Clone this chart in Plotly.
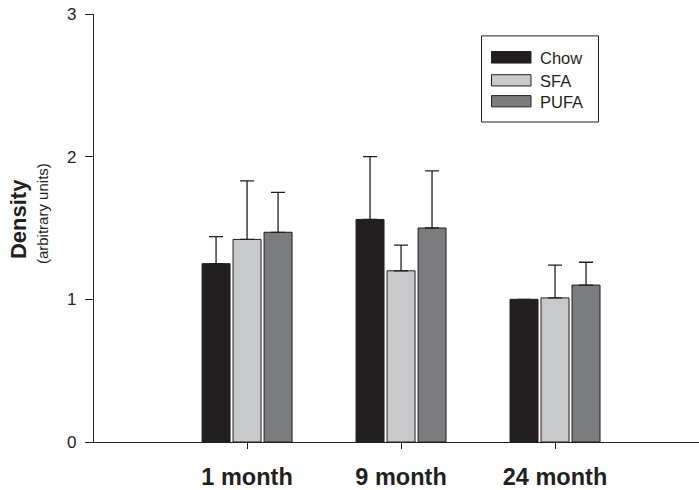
import plotly.graph_objects as go

# Density by age group and diet
ages = ["1 month", "9 month", "24 month"]
series_names = ["Chow", "SFA", "PUFA"]
chow = [1.25, 1.56, 1.00]
sfa = [1.42, 1.20, 1.01]
pufa = [1.47, 1.50, 1.10]
# upper error (SEM) for each bar; None = no bar drawn
chow_err = [0.19, 0.44, None]
sfa_err = [0.41, 0.18, 0.23]
pufa_err = [0.28, 0.40, 0.16]
y_ticks = [0, 1, 2, 3]

colors = ["#231f20", "#c8c9cb", "#7b7c80"]
ink = "#231f20"
values = [chow, sfa, pufa]
errors = [chow_err, sfa_err, pufa_err]
FONT = "Liberation Sans, Arial, sans-serif"

fig = go.Figure()
for name, vals, errs, col in zip(series_names, values, errors, colors):
    fig.add_trace(go.Bar(
        x=ages, y=vals, name=name,
        marker=dict(color=col, line=dict(color=ink, width=1)),
        error_y=dict(type="data", array=errs, symmetric=False,
                     arrayminus=[0] * len(errs),
                     color=ink, thickness=1.3, width=7),
        showlegend=False,
    ))

# Plot area in pixels: x 94..699, y 14..444
W, H = 699, 490
L, R, T, B = 94, 0, 14, 46
pw, ph = W - L - R, H - T - B


def px(x):
    return (x - L) / pw


def py(y):
    return (H - B - y) / ph


shapes = []
annotations = []

# legend box with swatches
shapes.append(dict(type="rect", xref="paper", yref="paper",
                   x0=px(481.5), x1=px(598.5), y0=py(122.5), y1=py(36),
                   line=dict(color=ink, width=1), fillcolor="white"))
swatch_rows = [(51.7, 63.3), (75, 86.3), (96, 107.3)]
for name, col, (y0, y1) in zip(series_names, colors, swatch_rows):
    shapes.append(dict(type="rect", xref="paper", yref="paper",
                       x0=px(491.5), x1=px(531), y0=py(y1), y1=py(y0),
                       line=dict(color=ink, width=1), fillcolor=col))
    annotations.append(dict(text=name, xref="paper", yref="paper",
                            x=px(538), y=py((y0 + y1) / 2 + 0.5),
                            xanchor="left", yanchor="middle", showarrow=False,
                            font=dict(size=16.5, color=ink, family=FONT)))

# y axis title in two parts
annotations.append(dict(text="<b>Density</b>", xref="paper", yref="paper",
                        x=px(18), y=py(220), textangle=-90,
                        xanchor="center", yanchor="middle", showarrow=False,
                        font=dict(size=22, color=ink, family=FONT)))
annotations.append(dict(text="(arbitrary units)", xref="paper", yref="paper",
                        x=px(42), y=py(215), textangle=-90,
                        xanchor="center", yanchor="middle", showarrow=False,
                        font=dict(size=15, color=ink, family=FONT)))

fig.update_layout(
    width=W, height=H,
    margin=dict(l=L, r=R, t=T, b=B, pad=0),
    paper_bgcolor="white", plot_bgcolor="white",
    barmode="group", bargap=0.396, bargroupgap=0.097,
    font=dict(family=FONT, color=ink),
    shapes=shapes, annotations=annotations,
    xaxis=dict(
        range=[-0.994, 2.935],
        showline=True, linecolor=ink, linewidth=1.3,
        ticks="outside", ticklen=6, tickwidth=1.2, tickcolor=ink,
        tickfont=dict(size=23.5, color=ink),
        tickvals=ages, ticktext=["<b>%s</b>" % a for a in ages],
        ticklabelstandoff=8,
        showgrid=False, zeroline=False,
    ),
    yaxis=dict(
        range=[0, 3],
        tickvals=y_ticks,
        showline=True, linecolor=ink, linewidth=1.3,
        ticks="outside", ticklen=8, tickwidth=1.2, tickcolor=ink,
        tickfont=dict(size=17, color=ink),
        ticklabelstandoff=5,
        showgrid=False, zeroline=False,
    ),
)

fig.write_html("out.html")
